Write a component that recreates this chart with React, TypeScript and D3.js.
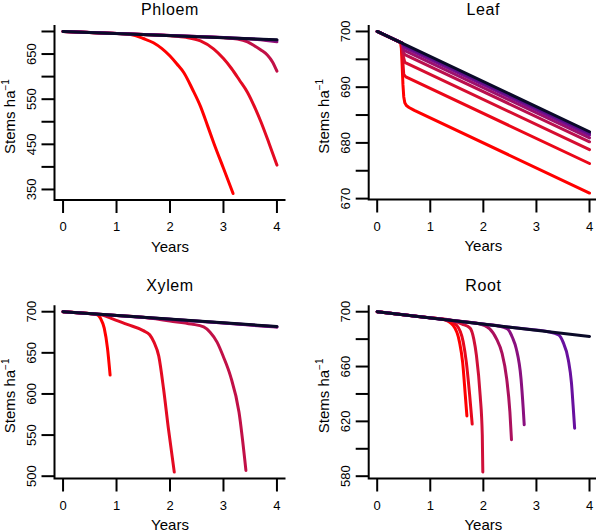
import React from "react";
import * as d3 from "d3";

type Pt = [number, number];

const yearTicks = [0, 1, 2, 3, 4];

const phloemTicks = [350, 400, 450, 500, 550, 600, 650, 700];
const phloemTickLabels = [350, 450, 550, 650];
const leafTicks = [670, 675, 680, 685, 690, 695, 700];
const leafTickLabels = [670, 680, 690, 700];
const xylemTicks = [500, 550, 600, 650, 700];
const xylemTickLabels = [500, 550, 600, 650, 700];
const rootTicks = [580, 600, 620, 640, 660, 680, 700];
const rootTickLabels = [580, 620, 660, 700];

const phloemLines: Pt[][] = [
  [[0, 700], [0.6, 697.3], [1.0, 695.5], [1.2, 694.5], [1.35, 690.8], [1.5, 684.5], [1.69, 675], [1.85, 662], [2.0, 645.6], [2.13, 628], [2.26, 608.6], [2.42, 572], [2.57, 534], [2.7, 492], [2.82, 452.5], [3.0, 397], [3.18, 341]],
  [[0, 700], [1.0, 695.5], [1.5, 693.25], [2.0, 690.7], [2.3, 687], [2.57, 679], [2.82, 661], [3.0, 640], [3.15, 618], [3.3, 592], [3.45, 565], [3.6, 528], [3.7, 500], [3.85, 453], [4.0, 404]],
  [[0, 700], [2.0, 691], [2.5, 688.75], [3.0, 686.3], [3.26, 683.5], [3.45, 677], [3.57, 669], [3.7, 659], [3.82, 648], [3.92, 632], [4.0, 612]],
  [[0, 700], [2.5, 688.75], [3.0, 686.4], [3.5, 683.3], [3.8, 680], [4.0, 677]],
  [[0, 700], [3.0, 686.5], [3.5, 684.1], [4.0, 680.6]],
  [[0, 700], [4.0, 681.5]],
];

const leafLines: Pt[][] = [
  [[0, 700], [0.44, 698], [0.455, 697], [0.47, 694], [0.485, 690.5], [0.5, 688.3], [0.52, 687.2], [0.55, 686.7], [0.6, 686.35], [0.7, 685.85], [4, 671]],
  [[0, 700], [0.46, 697.9], [0.48, 695], [0.5, 692.3], [0.54, 691.85], [4, 676.3]],
  [[0, 700], [0.47, 697.9], [0.49, 695.6], [0.52, 694.45], [4, 678.8]],
  [[0, 700], [0.47, 697.9], [0.49, 696.3], [0.52, 695.85], [4, 680.2]],
  [[0, 700], [0.48, 697.85], [0.5, 696.8], [0.52, 696.55], [4, 680.9]],
  [[0, 700], [0.48, 697.85], [0.5, 697.2], [4, 681.4]],
  [[0, 700], [0.48, 697.85], [0.5, 697.5], [4, 681.7]],
  [[0, 700], [4, 682]],
];

const xylemLines: Pt[][] = [
  [[0, 700], [0.3, 698.65], [0.5, 697.75], [0.62, 696.8], [0.7, 692], [0.77, 680], [0.83, 656], [0.88, 623]],
  [[0, 700], [0.4, 698.2], [0.6, 697.3], [0.75, 695.5], [0.9, 692], [1.2, 684.5], [1.5, 677], [1.62, 672], [1.7, 663], [1.79, 646], [1.88, 606], [1.97, 558], [2.08, 505]],
  [[0, 700], [1.0, 695.5], [1.5, 693.25], [2.0, 688.7], [2.4, 685], [2.63, 681.5], [2.75, 675], [2.88, 663], [3.0, 645], [3.13, 622], [3.29, 578], [3.42, 507]],
  [[0, 700], [3.0, 686.3], [4, 681.2]],
  [[0, 700], [4, 681.6]],
  [[0, 700], [4, 682]],
];

const rootLines: Pt[][] = [
  [[0, 700], [0.8, 696.4], [1.0, 695.5], [1.25, 694.3], [1.43, 690], [1.55, 678], [1.61, 663], [1.66, 639], [1.69, 624]],
  [[0, 700], [1.0, 695.5], [1.3, 694.15], [1.5, 690], [1.62, 678], [1.68, 663], [1.74, 640], [1.79, 618]],
  [[0, 700], [1.0, 695.5], [1.4, 693.7], [1.6, 691], [1.75, 688], [1.82, 680], [1.87, 668], [1.94, 639], [1.98, 610], [1.99, 583]],
  [[0, 700], [1.6, 692.8], [1.9, 691.45], [2.12, 687.5], [2.25, 680], [2.35, 670], [2.44, 651], [2.5, 627], [2.53, 606.6]],
  [[0, 700], [2.0, 691], [2.25, 689.9], [2.45, 687.5], [2.55, 681], [2.62, 673], [2.71, 651], [2.75, 630], [2.77, 617.5]],
  [[0, 700], [2.9, 686.95], [3.2, 685.6], [3.42, 683], [3.5, 678], [3.6, 665], [3.66, 648], [3.69, 632], [3.72, 615]],
  [[0, 700], [4, 682]],
];

const paletteStops = ["#ff0000", "#d01038", "#a01068", "#6a10a0", "#0a0a28"];
const paletteAt = [0, 0.33, 0.55, 0.83, 1];
const FONT = "'Liberation Sans', Arial, sans-serif";

interface PanelSpec {
  title: string;
  lines: Pt[][];
  ticks: number[];
  labels: number[];
  left: number;
  right: number;
  top: number;
  bottom: number;
  titleY: number;
  smooth: boolean;
}

const panels: PanelSpec[] = [
  { title: "Phloem", lines: phloemLines, ticks: phloemTicks, labels: phloemTickLabels, left: 54.5, right: 285.5, top: 25, bottom: 200, titleY: 14.5, smooth: true },
  { title: "Leaf", lines: leafLines, ticks: leafTicks, labels: leafTickLabels, left: 368.7, right: 598, top: 25, bottom: 199.5, titleY: 14.5, smooth: false },
  { title: "Xylem", lines: xylemLines, ticks: xylemTicks, labels: xylemTickLabels, left: 54.5, right: 285.5, top: 305.3, bottom: 478.5, titleY: 290.5, smooth: true },
  { title: "Root", lines: rootLines, ticks: rootTicks, labels: rootTickLabels, left: 368.7, right: 598, top: 305.3, bottom: 478.5, titleY: 290.5, smooth: true },
];

function Panel({ p }: { p: PanelSpec }) {
  const xs = p.lines.flat().map((d) => d[0]);
  const ys = p.lines.flat().map((d) => d[1]);
  const [xmin, xmax] = d3.extent(xs) as [number, number];
  const [ymin, ymax] = d3.extent(ys) as [number, number];
  const xp = (xmax - xmin) * 0.04;
  const yp = (ymax - ymin) * 0.04;
  const x = d3.scaleLinear().domain([xmin - xp, xmax + xp]).range([p.left, p.right]);
  const y = d3.scaleLinear().domain([ymin - yp, ymax + yp]).range([p.bottom, p.top]);
  const line = d3
    .line<Pt>()
    .x((d) => x(d[0]))
    .y((d) => y(d[1]))
    .curve(p.smooth ? d3.curveMonotoneX : d3.curveLinear);
  const pal = d3
    .scaleLinear<string>()
    .domain(paletteAt)
    .range(paletteStops)
    .interpolate(d3.interpolateRgb);
  const n = p.lines.length;
  const tick = 13;
  const cx = (p.left + p.right) / 2;
  const cy = (p.top + p.bottom) / 2;
  return (
    <g>
      {p.lines.map((s, i) => (
        <path
          key={i}
          d={line(s) || ""}
          fill="none"
          stroke={pal(i / (n - 1))}
          strokeWidth={3}
          strokeLinecap="round"
          strokeLinejoin="round"
        />
      ))}
      <path
        d={`M${p.left},${p.top}V${p.bottom}H${p.right}`}
        fill="none"
        stroke="black"
        strokeWidth={2}
      />
      {yearTicks.map((t) => (
        <g key={"x" + t}>
          <line x1={x(t)} x2={x(t)} y1={p.bottom} y2={p.bottom + tick} stroke="black" strokeWidth={2} />
          <text x={x(t)} y={p.bottom + 31} textAnchor="middle" fontSize={13} fontFamily={FONT}>
            {t}
          </text>
        </g>
      ))}
      {p.ticks.map((t) => (
        <line key={"y" + t} x1={p.left - tick} x2={p.left} y1={y(t)} y2={y(t)} stroke="black" strokeWidth={2} />
      ))}
      {p.labels.map((t) => (
        <text
          key={"l" + t}
          transform={`translate(${p.left - 18.5},${y(t)}) rotate(-90)`}
          textAnchor="middle"
          fontSize={13}
          fontFamily={FONT}
        >
          {t}
        </text>
      ))}
      <text x={cx} y={p.titleY} textAnchor="middle" fontSize={16} fontFamily={FONT} letterSpacing={0.6}>
        {p.title}
      </text>
      <text x={cx} y={p.bottom + 51.5} textAnchor="middle" fontSize={15} fontFamily={FONT}>
        Years
      </text>
      <text
        transform={`translate(${p.left - 40},${cy + 4}) rotate(-90)`}
        textAnchor="middle"
        fontSize={15}
        fontFamily={FONT}
      >
        Stems ha
        <tspan fontSize={10} dy={-6}>
          −1
        </tspan>
      </text>
    </g>
  );
}

export default function App() {
  return (
    <svg
      width={596}
      height={532}
      style={{ position: "absolute", left: 0, top: 0, display: "block" }}
    >
      <rect width={596} height={532} fill="white" />
      {panels.map((p) => (
        <Panel key={p.title} p={p} />
      ))}
    </svg>
  );
}
